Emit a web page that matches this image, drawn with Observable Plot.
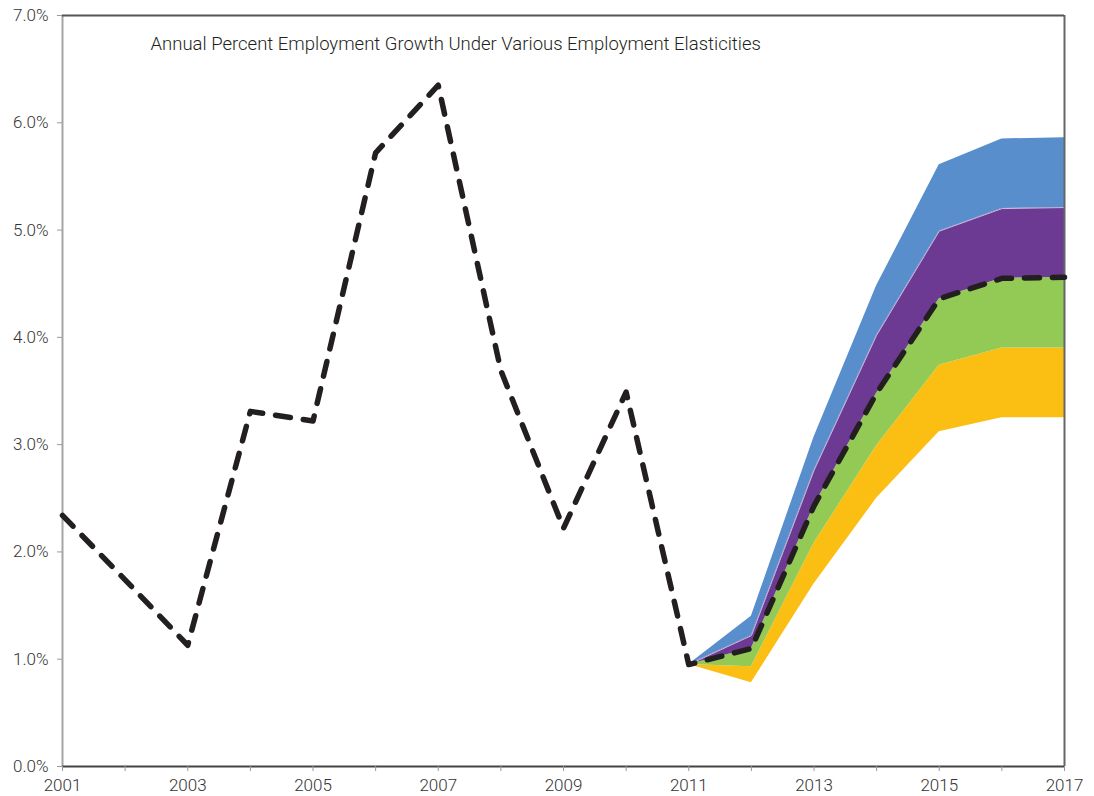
<!DOCTYPE html>
<html>
<head>
<meta charset="utf-8">
<script src="https://cdn.jsdelivr.net/npm/d3@7"></script>
<script src="https://cdn.jsdelivr.net/npm/@observablehq/plot@0.6"></script>
<style>
  html, body { margin: 0; padding: 0; background: #fff; }
  #chart svg { display: block; }
</style>
</head>
<body>
<div id="chart"></div>
<script>
const title = "Annual Percent Employment Growth Under Various Employment Elasticities";

// Historical / baseline employment growth (%)
const years = [2001, 2002, 2003, 2004, 2005, 2006, 2007, 2008, 2009, 2010, 2011, 2012, 2013, 2014, 2015, 2016, 2017];
const baseline = [2.34, 1.74, 1.13, 3.31, 3.22, 5.72, 6.35, 3.69, 2.22, 3.49, 0.95, 1.10, 2.43, 3.48, 4.36, 4.55, 4.56];

// Projection band boundaries (%)
const projYears = [2011, 2012, 2013, 2014, 2015, 2016, 2017];
const lowest  = [0.95, 0.78, 1.70, 2.50, 3.12, 3.25, 3.25];
const low     = [0.95, 0.93, 2.08, 2.99, 3.74, 3.90, 3.90];
const mid     = [0.95, 1.10, 2.43, 3.48, 4.36, 4.55, 4.56];
const high    = [0.95, 1.22, 2.76, 4.02, 4.99, 5.20, 5.21];
const highest = [0.95, 1.40, 3.07, 4.48, 5.61, 5.85, 5.86];

const yTicks = [0, 1, 2, 3, 4, 5, 6, 7];
const xTicks = years;

const line = years.map((y, i) => ({year: y, value: baseline[i]}));
const band = (a, b) => projYears.map((y, i) => ({year: y, lo: a[i], hi: b[i]}));
const topEdge = projYears.map((y, i) => ({year: y, value: high[i]}));

const fontFamily = "Roboto, 'Liberation Sans', Arial, sans-serif";

const chart = Plot.plot({
  width: 1094,
  height: 796,
  marginLeft: 62,
  marginRight: 30,
  marginTop: 15,
  marginBottom: 30,
  style: {fontFamily, fontSize: "17px", color: "#333", fontWeight: 300, background: "#fff"},
  x: {domain: [2001, 2017]},
  y: {domain: [0, 7]},
  marks: [
    Plot.areaY(band(lowest, low), {x: "year", y1: "lo", y2: "hi", fill: "#fbbf14"}),
    Plot.areaY(band(low, mid), {x: "year", y1: "lo", y2: "hi", fill: "#93c955"}),
    Plot.areaY(band(mid, high), {x: "year", y1: "lo", y2: "hi", fill: "#6c3a93"}),
    Plot.areaY(band(high, highest), {x: "year", y1: "lo", y2: "hi", fill: "#578ecb"}),
    Plot.line(topEdge, {x: "year", y: "value", stroke: "#c8c0e0", strokeWidth: 1}),
    Plot.ruleX([2001], {stroke: "#a6a6a6", strokeWidth: 2}),
    Plot.ruleX([2017], {stroke: "#666", strokeWidth: 2}),
    Plot.ruleY([7], {stroke: "#555", strokeWidth: 2}),
    Plot.ruleY([0], {stroke: "#444", strokeWidth: 2}),
    Plot.axisY({ticks: yTicks, tickSize: 5, tickPadding: 9, stroke: "#999",
      tickFormat: d => d.toFixed(1) + "%", fill: "#333", fontSize: 17, label: null}),
    Plot.axisX({ticks: xTicks, tickSize: 5, tickPadding: 7, stroke: "#999",
      tickFormat: d => (d % 2 === 1 ? String(d) : ""), fill: "#333", fontSize: 17, label: null}),
    Plot.line(line, {x: "year", y: "value", stroke: "#231f20", strokeWidth: 5.5,
      strokeDasharray: "15,13", strokeLinecap: "round", strokeLinejoin: "round"}),
    Plot.text([title], {frameAnchor: "top-left", dx: 88, dy: 29, lineAnchor: "middle",
      textAnchor: "start", fontSize: 18.5, fill: "#231f20"})
  ]
});
document.getElementById("chart").appendChild(chart);
</script>
</body>
</html>
